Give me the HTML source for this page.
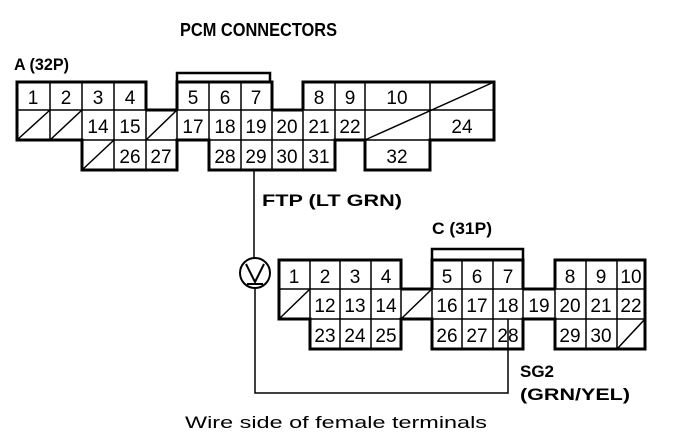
<!DOCTYPE html>
<html><head><style>body{margin:0;background:#fff}svg{display:block}</style></head><body>
<svg width="688" height="446" viewBox="0 0 688 446" xmlns="http://www.w3.org/2000/svg" font-family="Liberation Sans, sans-serif">
<rect width="688" height="446" fill="#fff"/>
<g font-weight="bold" fill="#000">
<text x="180" y="36" font-size="18" textLength="157" lengthAdjust="spacingAndGlyphs">PCM CONNECTORS</text>
<text x="14" y="70" font-size="17" textLength="55" lengthAdjust="spacingAndGlyphs">A (32P)</text>
<text x="262" y="206" font-size="17" textLength="140" lengthAdjust="spacingAndGlyphs">FTP (LT GRN)</text>
<text x="432" y="234" font-size="17" textLength="60" lengthAdjust="spacingAndGlyphs">C (31P)</text>
<text x="520" y="377" font-size="17">SG2</text>
<text x="520" y="400" font-size="17" textLength="110" lengthAdjust="spacingAndGlyphs">(GRN/YEL)</text>
</g>
<text x="185" y="428" font-size="17" textLength="302" lengthAdjust="spacingAndGlyphs">Wire side of female terminals</text>

<g stroke="#000" fill="none">
<g stroke-width="1.5">
<line x1="17" y1="110" x2="494" y2="110"/>
<line x1="82" y1="140" x2="430" y2="140"/>
<line x1="50" y1="82" x2="50" y2="140"/><line x1="82" y1="82" x2="82" y2="170"/>
<line x1="114" y1="82" x2="114" y2="170"/><line x1="146" y1="82" x2="146" y2="170"/>
<line x1="177" y1="82" x2="177" y2="170"/><line x1="209" y1="82" x2="209" y2="170"/>
<line x1="241" y1="82" x2="241" y2="170"/><line x1="272" y1="82" x2="272" y2="170"/>
<line x1="303" y1="82" x2="303" y2="170"/><line x1="335" y1="82" x2="335" y2="170"/>
<line x1="365" y1="82" x2="365" y2="170"/><line x1="430" y1="82" x2="430" y2="170"/>
<line x1="17" y1="140" x2="50" y2="110"/><line x1="50" y1="140" x2="82" y2="110"/>
<line x1="146" y1="140" x2="177" y2="110"/><line x1="82" y1="170" x2="114" y2="140"/>
<line x1="365" y1="140" x2="494" y2="82"/>
</g>
<path stroke-width="3" d="M146 110V82H17V140H82V170H177V140H209V170H335V140H365V170H430V140H494V82H303V110 M177 110V82H272V110 M146 110H177 M272 110H303"/>
<path stroke-width="2.5" d="M177 82V73H270V82"/>
<line stroke-width="1.5" x1="254" y1="170" x2="254" y2="258"/>
<circle cx="255" cy="273" r="15" stroke-width="2"/>
<path stroke-width="2" d="M246 264L255 282L264 264 M247 284H263"/>
<path stroke-width="1.5" d="M255 288V393H508V319"/>
<g stroke-width="1.5">
<line x1="279" y1="289" x2="645" y2="289"/>
<line x1="310" y1="319" x2="645" y2="319"/>
<line x1="310" y1="260" x2="310" y2="349"/><line x1="340" y1="260" x2="340" y2="349"/>
<line x1="371" y1="260" x2="371" y2="349"/><line x1="401" y1="260" x2="401" y2="349"/>
<line x1="432" y1="260" x2="432" y2="349"/><line x1="462" y1="260" x2="462" y2="349"/>
<line x1="493" y1="260" x2="493" y2="349"/><line x1="523" y1="260" x2="523" y2="349"/>
<line x1="555" y1="260" x2="555" y2="349"/><line x1="586" y1="260" x2="586" y2="349"/>
<line x1="617" y1="260" x2="617" y2="349"/>
<line x1="279" y1="319" x2="310" y2="289"/><line x1="401" y1="319" x2="432" y2="289"/>
<line x1="617" y1="349" x2="645" y2="319"/>
</g>
<path stroke-width="3" d="M401 289V260H279V319H310V349H401V319H432V349H523V319H555V349H645V260H555V289 M432 289V260H523V289 M401 289H432 M523 289H555"/>
<path stroke-width="2.5" d="M432 260V249H523V260"/>
</g>

<g font-size="19" text-anchor="middle" fill="#000">
<text x="33" y="104">1</text><text x="66" y="104">2</text><text x="98" y="104">3</text><text x="130" y="104">4</text>
<text x="193" y="104">5</text><text x="225" y="104">6</text><text x="256" y="104">7</text>
<text x="319" y="104">8</text><text x="350" y="104">9</text><text x="397" y="104">10</text>
<text x="98" y="133">14</text><text x="130" y="133">15</text><text x="193" y="133">17</text><text x="225" y="133">18</text>
<text x="256" y="133">19</text><text x="287" y="133">20</text><text x="319" y="133">21</text><text x="350" y="133">22</text>
<text x="462" y="133">24</text>
<text x="130" y="163">26</text><text x="161" y="163">27</text><text x="225" y="163">28</text><text x="256" y="163">29</text>
<text x="287" y="163">30</text><text x="319" y="163">31</text><text x="397" y="163">32</text>

<text x="294" y="283">1</text><text x="325" y="283">2</text><text x="355" y="283">3</text><text x="386" y="283">4</text>
<text x="447" y="283">5</text><text x="477" y="283">6</text><text x="508" y="283">7</text>
<text x="570" y="283">8</text><text x="601" y="283">9</text><text x="631" y="283">10</text>
<text x="325" y="312">12</text><text x="355" y="312">13</text><text x="386" y="312">14</text>
<text x="447" y="312">16</text><text x="477" y="312">17</text><text x="508" y="312">18</text><text x="539" y="312">19</text>
<text x="570" y="312">20</text><text x="601" y="312">21</text><text x="631" y="312">22</text>
<text x="325" y="342">23</text><text x="355" y="342">24</text><text x="386" y="342">25</text>
<text x="447" y="342">26</text><text x="477" y="342">27</text><text x="508" y="342">28</text>
<text x="570" y="342">29</text><text x="601" y="342">30</text>
</g>
</svg>
</body></html>
